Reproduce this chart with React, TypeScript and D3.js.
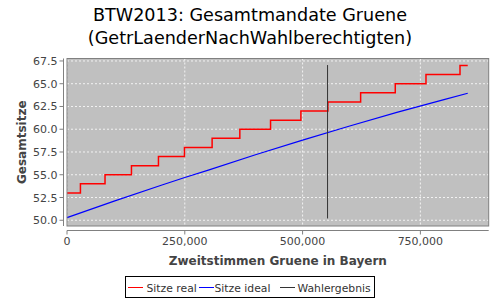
import React from "react";
import * as d3 from "d3";

const titleLines = ["BTW2013: Gesamtmandate Gruene", "(GetrLaenderNachWahlberechtigten)"];
const xLabel = "Zweitstimmen Gruene in Bayern";
const yLabel = "Gesamtsitze";

// Sitze real (step function): vote counts where seat count changes
const realX = [0, 28500, 80700, 136800, 194100, 249300, 308000, 366800, 432000, 496400, 553700, 623200, 696700, 761900, 834100, 850500];
const realY = [53, 54, 55, 56, 57, 58, 59, 60, 61, 62, 63, 64, 65, 66, 67, 67];

// Sitze ideal
const idealX = [0, 100000, 200000, 250000, 300000, 400000, 500000, 600000, 700000, 800000, 850500];
const idealY = [50.29, 52.1, 53.85, 54.7, 55.5, 57.2, 58.8, 60.35, 61.85, 63.25, 63.95];

// Wahlergebnis
const resultX = [553000, 553000];
const resultY = [50.2, 67.05];

const xTicks = [0, 250000, 500000, 750000];
const yTicks = [50, 52.5, 55, 57.5, 60, 62.5, 65, 67.5];

const legendItems = [
  { label: "Sitze real", color: "#ff0000" },
  { label: "Sitze ideal", color: "#0000ff" },
  { label: "Wahlergebnis", color: "#333333" },
];

export default function App() {
  const W = 500, H = 300;
  const pl = 67, pr = 488.7, pt = 58.5, pb = 226;
  const x = d3.scaleLinear().domain([0, 895000]).range([pl, pr]);
  const y = d3.scaleLinear().domain([49.37, 67.77]).range([pb, pt]);
  const fmt = d3.format(",");
  const font = "DejaVu Sans, sans-serif";

  const realLine = d3.line<number>().x((_, i) => x(realX[i])).y((_, i) => y(realY[i])).curve(d3.curveStepAfter);
  const idealLine = d3.line<number>().x((_, i) => x(idealX[i])).y((_, i) => y(idealY[i]));
  const resLine = d3.line<number>().x((_, i) => x(resultX[i])).y((_, i) => y(resultY[i]));

  const legX = [128, 199, 280];
  const legTextX = [146.5, 214.5, 297.5];

  return (
    <svg width={W} height={H} style={{ display: "block", position: "absolute", left: 0, top: 0 }} fontFamily={font}>
      <rect x={0} y={0} width={W} height={H} fill="#ffffff" />
      <text x={250} y={21} textAnchor="middle" fontSize={17.6} fill="#000">{titleLines[0]}</text>
      <text x={250} y={44} textAnchor="middle" fontSize={17.6} fill="#000">{titleLines[1]}</text>

      <rect x={pl} y={pt} width={pr - pl} height={pb - pt} fill="#c0c0c0" />
      {xTicks.map((t) => (
        <line key={"gx" + t} x1={x(t)} x2={x(t)} y1={pt} y2={pb} stroke="#ffffff" strokeWidth={0.8} strokeDasharray="2,2" />
      ))}
      {yTicks.map((t) => (
        <line key={"gy" + t} x1={pl} x2={pr} y1={y(t)} y2={y(t)} stroke="#ffffff" strokeWidth={0.8} strokeDasharray="2,2" />
      ))}

      <path d={idealLine(idealX) || ""} fill="none" stroke="#0000ff" strokeWidth={1.2} />
      <path d={realLine(realX) || ""} fill="none" stroke="#ff0000" strokeWidth={1.5} />
      <path d={resLine(resultX) || ""} fill="none" stroke="#333333" strokeWidth={1} />

      <rect x={pl} y={pt} width={pr - pl} height={pb - pt} fill="none" stroke="#808080" strokeWidth={1} />

      {/* y axis */}
      <line x1={63.5} x2={63.5} y1={pt} y2={pb} stroke="#808080" strokeWidth={1} />
      {yTicks.map((t) => (
        <g key={"ty" + t}>
          <line x1={59.5} x2={63.5} y1={y(t)} y2={y(t)} stroke="#808080" />
          <text x={57.5} y={y(t) + 4} textAnchor="end" fontSize={11} fill="#444444">{t.toFixed(1)}</text>
        </g>
      ))}
      {/* x axis */}
      <line x1={pl} x2={pr} y1={230.5} y2={230.5} stroke="#808080" strokeWidth={1} />
      {xTicks.map((t) => (
        <g key={"tx" + t}>
          <line x1={x(t)} x2={x(t)} y1={230.5} y2={234.5} stroke="#808080" />
          <text x={x(t)} y={245} textAnchor="middle" fontSize={11} fill="#444444">{fmt(t)}</text>
        </g>
      ))}

      <text x={(pl + pr) / 2} y={265} textAnchor="middle" fontSize={12} fontWeight="bold" fill="#444444">{xLabel}</text>
      <text transform={`translate(26,${(pt + pb) / 2}) rotate(-90)`} textAnchor="middle" fontSize={12} fontWeight="bold" fill="#444444">{yLabel}</text>

      <rect x={125.5} y={276.5} width={249} height={21} fill="#ffffff" stroke="#000000" strokeWidth={1} />
      {legendItems.map((it, i) => (
        <g key={it.label}>
          <line x1={legX[i]} x2={legX[i] + 15} y1={287.5} y2={287.5} stroke={it.color} strokeWidth={1} />
          <text x={legTextX[i]} y={291.5} fontSize={10.8} fill="#333333">{it.label}</text>
        </g>
      ))}
    </svg>
  );
}
